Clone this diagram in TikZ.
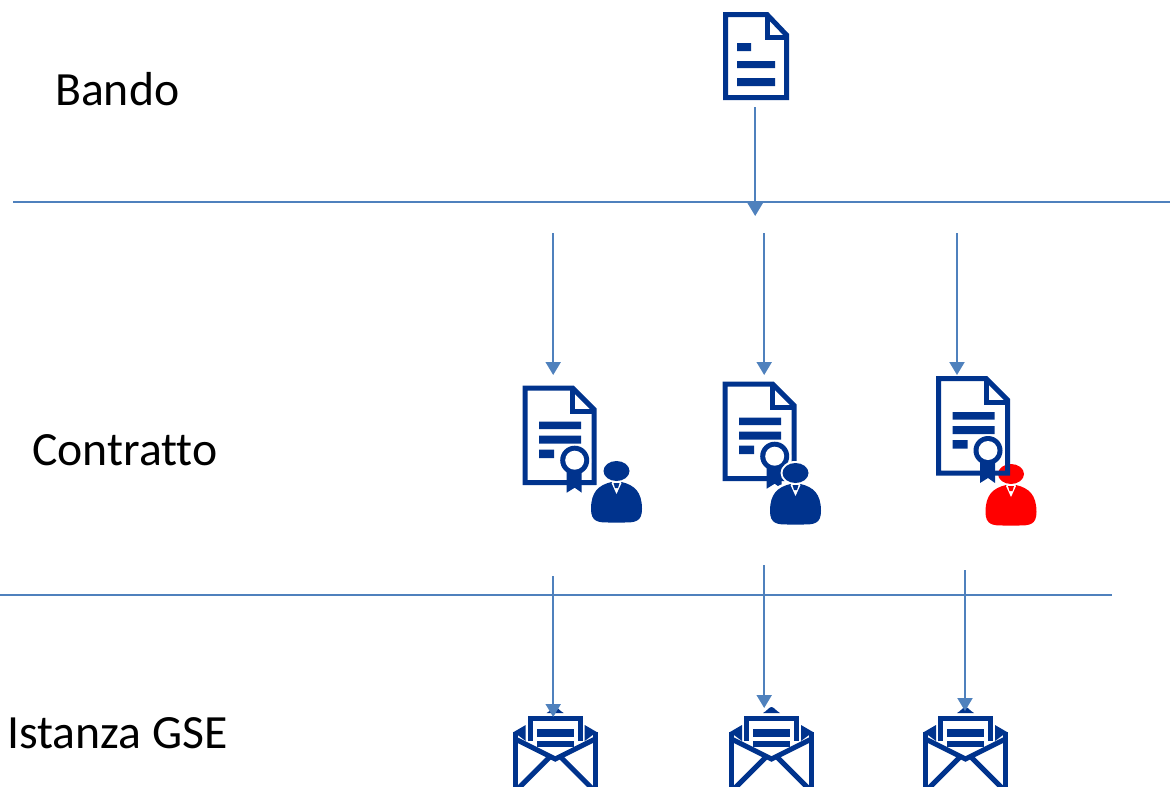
\documentclass[tikz,border=0pt]{standalone}
\usepackage{fontspec}
\setmainfont[Ligatures={NoCommon,NoRequired,NoContextual}]{Carlito}
\usetikzlibrary{arrows.meta}
\definecolor{iconblue}{HTML}{00338D}
\definecolor{linkblue}{HTML}{4F81BD}
\definecolor{alertred}{HTML}{FF0000}
\tikzset{
  x=1pt,y=-1pt,
  rulebar/.style={draw=linkblue,line width=2pt},
  link/.style={draw=linkblue,line width=2pt,-{Triangle[width=15pt,length=13pt]}},
  label/.style={font=\fontsize{47.7}{48}\selectfont,anchor=base west,inner sep=0pt},
  iconline/.style={draw=iconblue,line width=5pt,miter limit=4},
  pics/plaindoc/.style={code={
    \draw[iconline,fill=white] (2.5,2.5)--(44,2.5)--(63.5,23)--(63.5,85.5)--(2.5,85.5)--cycle;
    \draw[iconline] (44,2.5)--(44,25)--(63.5,25);
    \fill[iconblue] (14,31) rectangle (28,39) (14,49) rectangle (52,56) (14,66) rectangle (52,74);
  }},
  pics/certdoc/.style={code={
    \draw[iconline,fill=#1] (2.5,2.5)--(50,2.5)--(71.5,24)--(71.5,97)--(2.5,97)--cycle;
    \draw[iconline] (50,2.5)--(50,26)--(71.5,26);
    \fill[iconblue] (16.5,36) rectangle (58.5,43.5) (16.5,50) rectangle (58.5,58) (16.5,64) rectangle (31.5,72.5);
    \fill[white] (52,75) circle (16.5);
    \fill[iconblue] (44,85)--(44,107)--(52,102)--(59,107)--(59,85)--cycle;
    \fill[iconblue] (52,74.5) circle (14.5);
    \fill[white] (52,74.5) circle (9.5);
  }},
  pics/personhalo/.style={code={
    \fill[white] (0,0) ellipse (15 and 12);
    \path[fill=white] (-28,46) -- (-28,30) .. controls (-28,17) and (-16,9) .. (0,9) .. controls (16,9) and (28,17) .. (28,30) -- (28,46) -- (24,54) -- (-24,54) -- cycle;
  }},
  pics/person/.style={code={
    \fill[#1] (0,0) ellipse (13 and 10);
    \fill[#1] (-8,51.5) .. controls (-18,51.5) and (-25.5,51) .. (-25.5,38) .. controls (-25.5,21) and (-18,14) .. (-5,11) -- (0,21) -- (5,11) .. controls (18,14) and (25.5,21) .. (25.5,38) .. controls (25.5,51) and (18,51.5) .. (8,51.5) -- cycle;
    \fill[white] (-5,12) -- (5,12) -- (0,23) -- cycle;
    \fill[#1] (-3,12) -- (3,12) -- (1.5,17) -- (-1.5,17) -- cycle;
  }},
  pics/mail/.style={code={
    \fill[iconblue] (34,-3) .. controls (38,-5) and (40,-9) .. (42.5,-9) .. controls (45,-9) and (47,-5) .. (51,-3) -- cycle;
    \draw[iconline,fill=white] (17.5,25) -- (17.5,2.5) -- (67.5,2.5) -- (67.5,25);
    \fill[iconblue] (24,13) rectangle (61,21);
    \fill[iconblue] (24,25) rectangle (61,31);
    \fill[iconblue] (1,16) -- (13,9) -- (13,25) -- cycle;
    \fill[iconblue] (84,16) -- (72,9) -- (72,25) -- cycle;
    \draw[iconblue,line width=5pt] (2.5,75) -- (2.5,16);
    \draw[iconblue,line width=5pt] (82.5,75) -- (82.5,16);
    \draw[iconline] (2.5,23) -- (42.5,43) -- (82.5,23);
    \draw[iconline] (37,41) -- (6,72);
    \draw[iconline] (48,41) -- (79,72);
  }}
}
\begin{document}
\begin{tikzpicture}
\useasboundingbox (0,0) rectangle (1170,787);
\clip (0,0) rectangle (1170,787);
\fill[white] (0,0) rectangle (1170,787);

\node[label] (bando) at (55,105) {Bando};
\node[label] (contratto) at (32,465) {Contratto};
\node[label] (istanza) at (7,748) {Istanza GSE};

\coordinate (ruleAw) at (13,202);
\coordinate (ruleAe) at (1170,202);
\coordinate (ruleBw) at (0,595);
\coordinate (ruleBe) at (1112,595);
\draw[rulebar] (ruleAw) -- (ruleAe);
\draw[rulebar] (ruleBw) -- (ruleBe);

\pic at (723,12) {plaindoc};
\pic at (522.7,385.7) {certdoc={white}};
\pic at (722.7,381.7) {certdoc={white}};
\pic at (616.5,471) {personhalo};
\pic at (616.5,471) {person={iconblue}};
\pic at (795.5,473) {personhalo};
\pic at (795.5,473) {person={iconblue}};
\pic at (1011,474) {person={alertred}};
\pic at (936,376) {certdoc={none}};
\pic at (512.7,716) {mail};
\pic at (729,716) {mail};
\pic at (923,716) {mail};

\coordinate (a0) at (755.2,107); \coordinate (b0) at (755.2,216);
\coordinate (a1) at (553.2,233); \coordinate (b1) at (553.2,375);
\coordinate (a2) at (764.2,233); \coordinate (b2) at (764.2,375);
\coordinate (a3) at (957,233);   \coordinate (b3) at (957,375);
\coordinate (a4) at (553.2,576); \coordinate (b4) at (553.2,717);
\coordinate (a5) at (764.2,565); \coordinate (b5) at (764.2,708);
\coordinate (a6) at (965,570);   \coordinate (b6) at (965,711);
\foreach \i in {0,...,6} \draw[link] (a\i) -- (b\i);
\end{tikzpicture}
\end{document}
